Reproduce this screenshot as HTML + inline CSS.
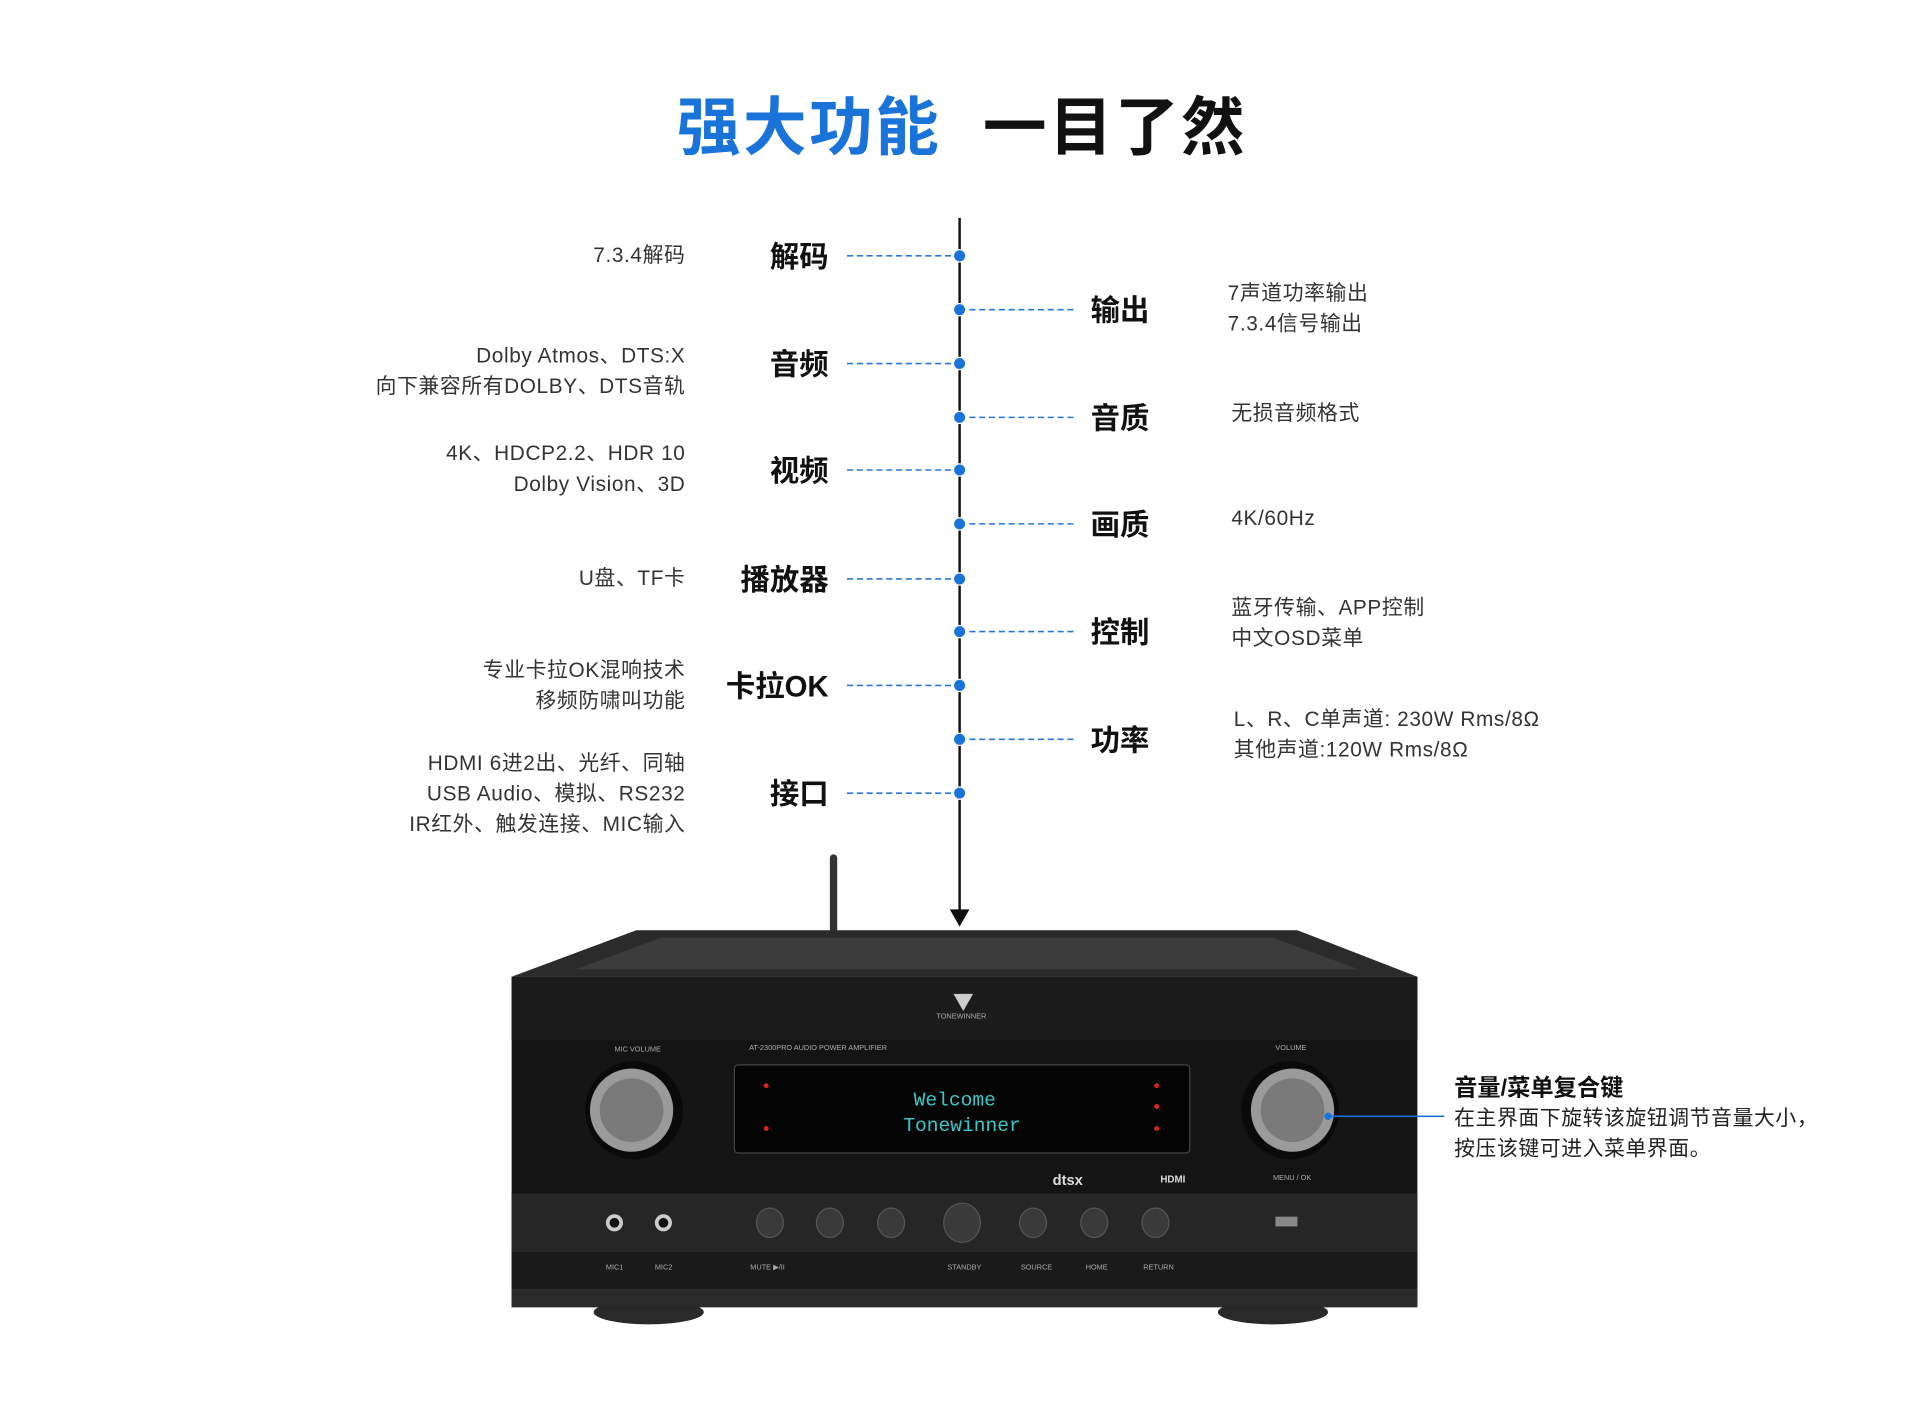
<!DOCTYPE html>
<html><head><meta charset="utf-8">
<style>
html,body{margin:0;padding:0;background:#fff;width:1920px;height:1409px;overflow:hidden}
#w{position:absolute;left:0;top:0;width:1569px;height:1152px;transform:scale(1.224);transform-origin:0 0;font-family:"Liberation Sans","Noto Sans CJK SC",sans-serif}
.t{position:absolute;white-space:nowrap}
.h{font-size:24px;font-weight:bold;color:#111}
.d{font-size:17px;color:#333;line-height:25px;letter-spacing:0.5px}
.r{text-align:right}
</style></head><body><div id="w">
<div class="t" style="left:553px;top:62px;font-size:52px;font-weight:bold;color:#1a73d9;letter-spacing:2px">强大功能</div>
<div class="t" style="left:803px;top:62px;font-size:52px;font-weight:bold;color:#111;letter-spacing:2px">一目了然</div>

<svg style="position:absolute;left:0;top:0" width="1559" height="1145">
<line x1="784" y1="178" x2="784" y2="745" stroke="#111" stroke-width="2"/>
<polygon points="776,743 792,743 784,757" fill="#111"/>
<g stroke="#2a78d6" stroke-width="1.3" stroke-dasharray="5,3">
<line x1="692" y1="209" x2="784" y2="209"/><line x1="692" y1="297" x2="784" y2="297"/>
<line x1="692" y1="384" x2="784" y2="384"/><line x1="692" y1="473" x2="784" y2="473"/>
<line x1="692" y1="560" x2="784" y2="560"/><line x1="692" y1="648" x2="784" y2="648"/>
<line x1="784" y1="253" x2="878" y2="253"/><line x1="784" y1="341" x2="878" y2="341"/>
<line x1="784" y1="428" x2="878" y2="428"/><line x1="784" y1="516" x2="878" y2="516"/>
<line x1="784" y1="604" x2="878" y2="604"/>
</g>
<g fill="#1a73d9" stroke="#fff" stroke-width="1">
<circle cx="784" cy="209" r="5"/><circle cx="784" cy="297" r="5"/><circle cx="784" cy="384" r="5"/>
<circle cx="784" cy="473" r="5"/><circle cx="784" cy="560" r="5"/><circle cx="784" cy="648" r="5"/>
<circle cx="784" cy="253" r="5"/><circle cx="784" cy="341" r="5"/><circle cx="784" cy="428" r="5"/>
<circle cx="784" cy="516" r="5"/><circle cx="784" cy="604" r="5"/>
</g>
<!-- amplifier -->
<rect x="678" y="698" width="6" height="68" rx="3" fill="#333"/>
<ellipse cx="530" cy="1072" rx="45" ry="10" fill="#2a2a2a"/>
<ellipse cx="1040" cy="1072" rx="45" ry="10" fill="#2a2a2a"/>
<polygon points="520,760 1060,760 1158,798 418,798" fill="#2b2b2b"/>
<polygon points="540,766 1040,766 1110,792 470,792" fill="#3b3b3b"/>
<rect x="418" y="798" width="740" height="270" fill="#141414"/>
<rect x="418" y="798" width="740" height="52" fill="#1c1c1c"/>
<rect x="418" y="975" width="740" height="48" fill="#262626"/>
<rect x="418" y="1023" width="740" height="30" fill="#1a1a1a"/>
<rect x="418" y="1053" width="740" height="15" fill="#2a2a2a"/>
<rect x="600" y="870" width="372" height="72" rx="3" fill="#050505" stroke="#444"/>
<text x="780" y="903" font-family="Liberation Mono" font-size="16" fill="#3cc8c8" text-anchor="middle">Welcome</text>
<text x="786" y="924" font-family="Liberation Mono" font-size="16" fill="#3cc8c8" text-anchor="middle">Tonewinner</text>
<circle cx="626" cy="887" r="2" fill="#d22"/><circle cx="626" cy="922" r="2" fill="#d22"/>
<circle cx="945" cy="887" r="2" fill="#d22"/><circle cx="945" cy="904" r="2" fill="#d22"/><circle cx="945" cy="922" r="2" fill="#d22"/>
<circle cx="518" cy="907" r="40" fill="#0a0a0a"/><circle cx="516" cy="907" r="34" fill="#9a9a9a"/><circle cx="516" cy="907" r="26" fill="#7a7a7a"/>
<circle cx="1054" cy="907" r="40" fill="#0a0a0a"/><circle cx="1056" cy="907" r="34" fill="#9a9a9a"/><circle cx="1056" cy="907" r="26" fill="#7a7a7a"/>
<g fill="#3a3a3a" stroke="#555">
<ellipse cx="629" cy="999" rx="11" ry="12"/><ellipse cx="678" cy="999" rx="11" ry="12"/><ellipse cx="728" cy="999" rx="11" ry="12"/>
<ellipse cx="786" cy="999" rx="15" ry="16"/><ellipse cx="844" cy="999" rx="11" ry="12"/><ellipse cx="894" cy="999" rx="11" ry="12"/><ellipse cx="944" cy="999" rx="11" ry="12"/>
</g>
<circle cx="502" cy="999" r="7" fill="#ccc"/><circle cx="502" cy="999" r="4" fill="#111"/>
<circle cx="542" cy="999" r="7" fill="#ccc"/><circle cx="542" cy="999" r="4" fill="#111"/>
<rect x="1042" y="994" width="18" height="8" fill="#888"/>
<g font-family="Liberation Sans" font-size="6" fill="#aaa">
<text x="502" y="859">MIC VOLUME</text><text x="612" y="858">AT-2300PRO AUDIO POWER AMPLIFIER</text>
<text x="1042" y="858">VOLUME</text><text x="1040" y="964">MENU / OK</text><text x="765" y="832">TONEWINNER</text>
<text x="495" y="1037">MIC1</text><text x="535" y="1037">MIC2</text><text x="613" y="1037">MUTE ▶/II</text>
<text x="774" y="1037">STANDBY</text><text x="834" y="1037">SOURCE</text><text x="887" y="1037">HOME</text><text x="934" y="1037">RETURN</text>
</g>
<text x="860" y="968" font-family="Liberation Sans" font-weight="bold" font-size="12" fill="#ddd">dtsx</text>
<text x="948" y="966" font-family="Liberation Sans" font-weight="bold" font-size="8" fill="#ddd">HDMI</text>
<polygon points="779,812 795,812 787,826" fill="#ccc"/>
<line x1="1085" y1="912" x2="1180" y2="912" stroke="#1a73d9" stroke-width="1.3"/>
<circle cx="1085" cy="912" r="3" fill="#1a73d9"/>
</svg>

<div class="t h r" style="right:892px;top:190px">解码</div>
<div class="t h r" style="right:892px;top:278px">音频</div>
<div class="t h r" style="right:892px;top:365px">视频</div>
<div class="t h r" style="right:892px;top:454px">播放器</div>
<div class="t h r" style="right:892px;top:541px">卡拉OK</div>
<div class="t h r" style="right:892px;top:629px">接口</div>

<div class="t h" style="left:891px;top:234px">输出</div>
<div class="t h" style="left:891px;top:322px">音质</div>
<div class="t h" style="left:891px;top:409px">画质</div>
<div class="t h" style="left:891px;top:497px">控制</div>
<div class="t h" style="left:891px;top:585px">功率</div>

<div class="t d r" style="right:1009px;top:196px">7.3.4解码</div>
<div class="t d r" style="right:1009px;top:278px">Dolby Atmos、DTS:X<br>向下兼容所有DOLBY、DTS音轨</div>
<div class="t d r" style="right:1009px;top:358px">4K、HDCP2.2、HDR 10<br>Dolby Vision、3D</div>
<div class="t d r" style="right:1009px;top:460px">U盘、TF卡</div>
<div class="t d r" style="right:1009px;top:535px">专业卡拉OK混响技术<br>移频防啸叫功能</div>
<div class="t d r" style="right:1009px;top:611px">HDMI 6进2出、光纤、同轴<br>USB Audio、模拟、RS232<br>IR红外、触发连接、MIC输入</div>

<div class="t d" style="left:1003px;top:227px">7声道功率输出<br>7.3.4信号输出</div>
<div class="t d" style="left:1006px;top:325px">无损音频格式</div>
<div class="t d" style="left:1006px;top:411px">4K/60Hz</div>
<div class="t d" style="left:1006px;top:484px">蓝牙传输、APP控制<br>中文OSD菜单</div>
<div class="t d" style="left:1008px;top:575px">L、R、C单声道: 230W Rms/8Ω<br>其他声道:120W Rms/8Ω</div>

<div class="t" style="left:1188px;top:874px;font-size:19px;font-weight:bold;color:#111">音量/菜单复合键</div>
<div class="t d" style="left:1188px;top:901px;color:#222">在主界面下旋转该旋钮调节音量大小，<br>按压该键可进入菜单界面。</div>
</div></body></html>
